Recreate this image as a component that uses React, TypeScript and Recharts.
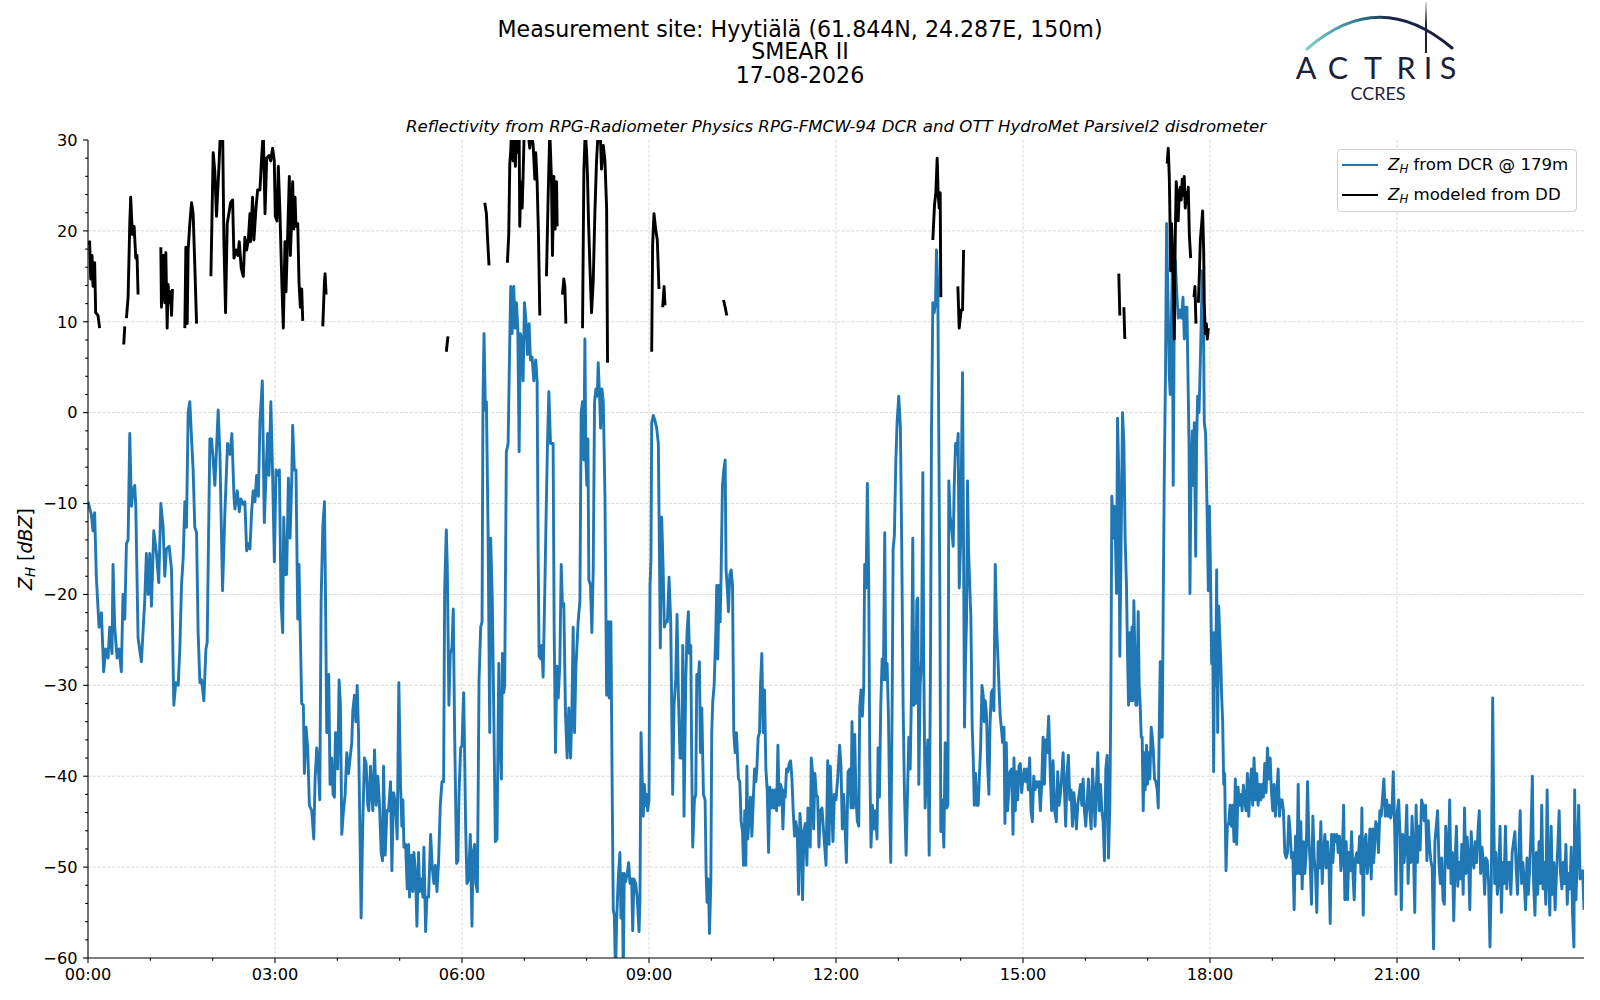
import React from 'react';
import { LineChart, Line, XAxis, YAxis, CartesianGrid, Legend } from 'recharts';

type Pt = [number, number];

// ---- Z_H from DCR @ 179m : [minutes after 00:00, dBZ] ----
const dcr00to03: Pt[] = [
  [0, -9.8], [3.2, -11.2], [4.8, -13], [6.4, -11], [8, -18], [10.6, -23.6], [12.9, -22], [15.1, -28.5], [17, -26], [19.3, -27],
  [20.9, -23.6], [23.1, -26.5], [24.1, -16.7], [25.7, -23.6], [28, -27], [29.9, -26], [32.1, -28.5], [33.7, -20], [35.4, -22.7],
  [37, -14.4], [38.6, -14], [40.2, -2.3], [41.8, -10.3], [43.4, -8.6], [45, -8], [46, -10.3], [48.2, -24.8], [51.4, -27.4],
  [54.6, -20.7], [56.2, -15.5], [57.9, -20], [59.5, -15.5], [61.1, -21.3], [63.3, -13], [65.9, -15.5], [68.1, -18.7], [70.1, -10],
  [72.3, -12.6], [73.9, -18], [75.5, -15], [78.1, -14.7], [80.4, -17.3], [82.6, -32.2], [84.5, -29.7], [86.8, -30], [88.4, -26],
  [90, -19], [91.6, -16], [93.2, -9.8], [94.8, -12.6], [96.4, 0], [98, 1.2], [99.7, -2.9], [101.2, -6.3], [102.8, -12.6],
  [104.5, -13.2], [106, -24.2], [107.7, -29.7], [109.3, -29.4], [111.5, -31.7], [113.5, -26], [114.7, -25.3], [117.3, -2.9],
  [118.9, -2.9], [120.5, -5.2], [122.1, -8], [123.7, -4], [125.3, 0.3], [127, -4.6], [129.5, -19.6], [131.8, -10.9], [134.3, -3.4],
  [136.6, -4.6], [138.5, -2.3], [140.5, -9.2], [141.4, -10.6], [143.7, -8.6], [145.6, -10.9], [147.2, -9.5], [149.5, -10.1],
  [151, -9.8], [152.7, -15.2], [154.3, -14.4], [155.9, -15], [157.5, -10.9], [159, -8.6], [160.7, -9.8], [162.3, -6.9],
  [164, -9.2], [165.5, -1.1], [167.8, 3.5], [169.7, -12.1], [171.3, -6.9], [172.9, -2.3], [174.2, -6.9], [176, 1.2], [177.7, -6.9],
];

const dcr03to06: Pt[] = [
  [179.4, -16.4], [181, -6.3], [182.6, -6.9], [184.2, -6.3], [185.8, -20.7], [187.4, -24.2], [188.4, -11.5], [190, -17.8],
  [191.2, -17.8], [192.9, -7.2], [194.5, -13.8], [196.1, -7.5], [197, -1.4], [198.6, -6.3], [200.2, -6.3], [201.9, -22.7],
  [203.1, -16.7], [204.1, -22.7], [205.7, -32], [207.3, -32.2], [208.3, -39.7], [209.9, -34.6], [211.5, -36.9], [213.1, -43.2],
  [215.4, -43.8], [217.3, -46.9], [218.6, -40.3], [220.2, -36.9], [221.8, -39.2], [223.1, -42.6], [224.4, -20.7], [226, -12.6],
  [227.6, -9.8], [228.5, -19], [229.8, -35.2], [230.8, -35.2], [231.7, -28.8], [233, -40.9], [234.6, -38], [235.9, -42],
  [237.2, -42.3], [238.2, -35.2], [239.5, -36], [240.4, -39.2], [241.7, -29.4], [243, -32.2], [244.3, -46.4], [245.9, -43.8],
  [247.5, -42], [249.1, -37.4], [250.7, -39.7], [252.3, -38], [253.9, -36.3], [254.9, -32.8], [256.5, -31.1], [257.8, -34],
  [259.1, -30], [260.4, -35.2], [261.6, -45], [262.9, -55.6], [264.5, -45], [266.1, -38], [267.7, -38.6], [269.3, -43.2],
  [270.3, -43.8], [271.9, -38.9], [273.2, -42], [274.2, -43.8], [275.8, -37.1], [277.4, -43.2], [279, -40], [280.6, -43.2],
  [282.2, -48.4], [283.5, -49.3], [284.5, -38.9], [286.1, -48.7], [287.7, -43.8], [289.3, -43.8], [291.2, -40.6], [292.5, -50.4],
  [294.1, -41.8], [296, -43], [297.6, -46.9], [299.2, -29.7], [300.9, -41.2], [302.1, -45.5], [303.1, -42.6], [304.1, -47.8],
  [305.7, -47.5], [307.3, -52.4], [308.6, -47.5], [309.5, -53.3], [311.1, -48.7], [312.7, -52.7], [313.7, -48.4], [315.3, -50.7],
  [316.6, -56.5], [318.2, -48.4], [319.2, -52.7], [320.8, -51.3], [322.4, -53.3], [323.3, -47.8], [325, -57.1], [326.2, -53.3],
  [327.8, -53.3], [329.8, -46.4], [331.4, -50.1], [333, -51.8], [334.3, -49.8], [335.9, -52.7], [337.5, -49.3], [339.1, -43.2],
  [340.7, -40.6], [342.3, -40.6], [343.3, -19.6], [344.9, -12.9], [345.8, -16.7], [347.4, -32.2], [348.7, -26.5], [350.3, -25.9],
  [351.6, -21.6], [352.9, -35.2], [354.8, -49.6], [356.1, -49.3],
];

const dcr06to09: Pt[] = [
  [357.1, -42], [358.7, -36.9], [360, -36.6], [361.6, -30.8], [362.6, -38], [363.5, -45.5], [364.8, -51.8], [366.4, -51.3],
  [368, -46.4], [369.6, -56.5], [370.6, -48.4], [372.2, -47.5], [373.2, -51.8], [374.8, -52.7], [376.4, -29.4], [378, -23.6],
  [379.3, -23], [380.2, 1.2], [381.2, 8.7], [382.5, 0.3], [383.5, 1.2], [385.1, -13.2], [386.7, -35.2], [387.6, -13.8],
  [389.2, -20.7], [390.5, -32.2], [392.1, -47.2], [393.7, -46.9], [395.4, -27.6], [396.3, -34.6], [397.9, -40.3], [398.9, -26.5],
  [400.2, -30.8], [401.1, -30], [402.7, -4.3], [404.4, -3.4], [406, 8.1], [406.9, 13.9], [408.2, 8.7], [409.8, 13.9],
  [411.1, 9.3], [412.4, 12.1], [413.7, 9.3], [415, -4.3], [416.2, 8.7], [417.5, 8.1], [418.8, 3.5], [420.1, 12.1],
  [421.4, 10.4], [423, 6.4], [424.6, 9.8], [425.9, 5.8], [427.5, 6.1], [429.1, 3.5], [431, 5.8], [432.3, 3.5], [433.3, -15.5],
  [434.2, -26.8], [435.9, -27.1], [436.8, -25.6], [438.1, -29.1], [439.7, -19.6], [441.3, -9.2], [442.3, -3.4], [443.6, 2.3],
  [445.2, -3.4], [446.5, -3.4], [447.7, -3.4], [448.7, -23.6], [450, -37.4], [451.3, -27.9], [452.6, -31.4], [454.2, -27.6],
  [455.5, -16.7], [456.7, -21.3], [458, -21], [459.6, -33.1], [461.2, -38], [462.8, -32.5], [464.5, -38], [465.7, -33.4],
  [467, -23.6], [468.3, -35.2], [469.6, -28.2], [471.8, -23], [473.5, -20.7], [474.7, 0], [476, 1.2], [477.3, -5.2],
  [478.3, 8.1], [479.2, -4.9], [480.2, -8], [481.2, -2.9], [482.1, -18.4], [483.7, -19], [485, -24.2], [486.3, -17.3],
  [487.6, 1.2], [488.9, 2.6], [490.2, 1.8], [491.1, 5.5], [492.4, 1.8], [493.4, -1.7], [494.7, 2.6], [496, 1.2], [497.6, -9.2],
  [499.2, -31.1], [500.8, -23], [501.7, -31.4], [503.3, -23], [504.6, -42], [505.6, -54.7], [506.6, -55.3], [507.8, -62],
  [508.8, -56], [510.4, -51.3], [512, -48.4], [513, -55.6], [514.3, -50.7], [515.2, -62], [516.2, -50.7], [517.5, -51.6],
  [519.1, -50.7], [520.4, -49.5], [521.7, -51.8], [523.3, -51.3],
];

const dcr09to12: Pt[] = [
  [524.3, -57], [525.5, -51.3], [527.2, -51.8], [528.8, -53.6], [530.4, -57.1], [531.3, -53.6], [532.3, -35.2], [533.6, -40.9],
  [534.5, -44.4], [535.5, -40.9], [536.8, -43.2], [537.7, -42], [538.7, -43.8], [540, -42.6], [541, -19], [541.9, -16.1],
  [542.6, -1.1], [544.2, -0.3], [545.8, -0.9], [547.4, -1.7], [549, -3.4], [550, -15], [550.9, -25.9], [552.2, -11.5],
  [553.5, -16.7], [554.8, -23.6], [556.1, -23], [557.7, -23], [559.3, -18.1], [560.9, -23], [562.8, -42], [564.1, -32.2],
  [565.7, -29.4], [567, -22.2], [568.3, -31.1], [569.9, -38], [571.5, -38], [572.5, -25.6], [573.7, -44.4], [575.4, -29.4],
  [576.6, -24.2], [577.9, -21.9], [578.9, -26.5], [580.2, -25.6], [581.1, -38], [582.1, -47.8], [583.7, -42.6], [585, -42],
  [586, -28.8], [587.2, -30], [588.5, -27.4], [589.5, -37.4], [590.8, -32.5], [592.4, -42], [594, -42.6], [595, -50.7],
  [595.9, -53.9], [597.2, -51.3], [598.2, -57.3], [599.5, -51.8], [600.4, -35.2], [601.4, -31.7], [602.7, -30], [604.3, -24.2],
  [605.2, -19], [606.2, -27.1], [607.5, -19], [608.5, -23], [609.4, -17.8], [610.7, -8], [612, -6.3], [613.3, -5.2],
  [614.2, -17.3], [615.5, -19.6], [616.5, -21.9], [617.8, -17.8], [619.1, -17.3], [620.4, -19], [621.6, -35.2], [622.9, -37.4],
  [624.2, -35.2], [626.1, -40.3], [627.4, -40.6], [628.7, -45], [630, -46.1], [631, -49.8], [632.2, -43.8], [633.2, -49.8],
  [634.2, -38.9], [635.1, -46.9], [636.4, -44.4], [637.7, -42.3], [639, -46.6], [640.3, -42.9], [641.6, -39.2], [642.8, -40.6],
  [643.8, -39.2], [645.1, -35.7], [646.4, -35.2], [647.3, -30], [648.6, -26.5], [649.9, -35.2], [651.2, -30.5], [652.5, -39.2],
  [653.8, -41.5], [655.1, -48.4], [656.3, -41.2], [657.6, -43.5], [658.9, -41.5], [660.2, -43.5], [661.5, -41.5], [662.8, -43.8],
  [664.1, -36.6], [665.3, -43.2], [666.6, -40.9], [667.9, -41.5], [668.9, -45.8], [670.2, -41.5], [671.1, -42.3], [672.4, -39.2],
  [673.7, -39.5], [675, -38.6], [676.3, -38.3], [677.6, -40.3], [678.8, -43.8], [680.1, -46.6], [681.4, -45], [682.7, -46.1],
  [684, -53], [685.3, -44.1], [686.6, -46.4], [687.8, -53.6], [689.1, -46.1], [690.4, -45.2], [692, -49.8], [693, -43.5],
  [694.3, -43.8], [695.2, -47.8], [696.2, -38], [697.5, -39.7], [698.5, -45.8], [699.7, -39.7], [701, -42], [702.3, -42.3],
  [703.6, -47.8], [704.9, -43.8], [706.5, -43.5], [708.1, -46.1], [710.4, -49.8],
];

const dcr12to15: Pt[] = [
  [712, -38.3], [713.3, -47.5], [714.5, -38.9], [715.8, -43.2], [717.1, -47.2], [718.4, -42], [720, -42.6], [721.6, -40.3],
  [723.5, -36.6], [724.8, -38.9], [726.1, -45.8], [727.4, -42], [728.7, -45.5], [730, -49.5], [731.6, -39.5], [733.2, -39.2],
  [734.5, -43.5], [735.4, -34], [736.7, -43.5], [738, -35.4], [739.3, -42.6], [740.6, -45], [741.9, -45.5], [742.8, -32.5],
  [744.1, -30.5], [745.4, -33.4], [746.7, -30], [747.6, -16.7], [748.9, -19.3], [750.2, -7.8], [751.5, -18.4], [752.5, -38],
  [753.7, -47.8], [755, -43.2], [756.3, -45.8], [757.9, -43.8], [759.5, -46.9], [760.5, -36.9], [761.8, -42.3], [763.1, -32.2],
  [764.4, -27.1], [765.6, -29.4], [766.9, -13.2], [767.9, -29.4], [769.2, -27.6], [770.5, -33.4], [771.7, -43.8], [772.7, -49.5],
  [774, -32.8], [775, -15], [776.2, -13.5], [777.5, -5.7], [778.8, -1.1], [780.4, 1.8], [782, -1.7], [783.3, -15], [784.6, -32.2],
  [785.9, -42], [787.5, -48.7], [788.8, -42], [790.1, -35.7], [791.4, -39.2], [792.6, -31.1], [793.9, -13.8], [794.9, -32.2],
  [795.9, -24.2], [796.5, -32], [797.8, -20.7], [798.7, -20.4], [799.7, -40.9], [801, -30], [802.3, -27.1], [803.6, -6.6],
  [804.5, -28.2], [805.8, -43.5], [807.1, -39.2], [808.4, -36], [809.7, -48.7], [811, -26.5], [811.9, -2.3], [813.2, 12.1],
  [814.5, 11], [815.8, 12.1], [816.7, 17.9], [818, 13.9], [819, -3.4], [820, -20.7], [820.9, -46.1], [822.2, -42.6], [823.8, -47.8],
  [825.1, -36.3], [826.4, -43.5], [827.7, -43.2], [828.6, -7.5], [829.9, -11.5], [831.2, -12.6], [832.8, -14.7], [833.8, -8],
  [835.1, -3.4], [836.3, -4.6], [837.6, -2.3], [838.6, -19.3], [839.9, -14.4], [840.8, -5.2], [841.8, 4.4], [842.8, -15],
  [843.7, -34.6], [844.7, -27.1], [845.7, -22.5], [846.6, -7.5], [847.6, -15], [848.9, -19.6], [849.8, -22.5], [851.1, -34.6],
  [852.1, -38], [853.1, -43.2], [854.3, -39.7], [855.6, -43.2], [856.9, -43.2], [857.9, -40.3], [859.2, -36.9], [860.5, -30],
  [861.7, -31.1], [862.7, -34], [863.7, -31.7], [865, -33.4], [865.9, -38.6], [867.2, -42], [868.2, -34.6], [869.5, -30.8],
  [870.7, -30.5], [872, -32.8], [873.3, -16.7], [874.6, -23.6], [875.9, -27.1], [877.2, -31.1], [878.1, -33.4], [879.1, -34.6],
  [880.4, -36.3], [881.7, -34.6], [882.6, -45.2], [883.9, -36.3], [885.2, -43.8], [887.4, -39.5],
];

const dcr15to18: Pt[] = [
  [889.1, -39.2], [890.4, -46.4], [891.3, -38], [892.6, -43.8], [893.6, -39.5], [894.9, -42.6], [896.1, -38.9], [897.4, -38.6],
  [898.7, -41.8], [900, -40.3], [901.3, -39.2], [902.6, -40.6], [903.9, -39.2], [905.1, -41.5], [906.4, -38], [907.7, -43.8],
  [909, -45], [910.3, -40], [911.6, -41.5], [912.9, -40.6], [914.1, -41.2], [915.4, -40.6], [916.7, -43.8], [918, -40.9],
  [919.3, -35.7], [920.6, -40.9], [921.9, -36], [923.1, -37.4], [924.7, -33.4], [926.4, -40.3], [927.6, -43.8], [928.9, -38.3],
  [930.5, -43.8], [932.1, -45], [933.4, -39.5], [934.7, -43.2], [936, -42], [937.3, -40], [938.6, -37.4], [939.9, -41.5],
  [941.1, -45.5], [942.4, -39.7], [943.7, -37.7], [945, -42.6], [946.3, -41.5], [947.6, -45.5], [948.9, -41.8], [950.1, -43.2],
  [951.4, -45.8], [952.7, -43.2], [954, -42], [955.3, -40.9], [956.6, -43.2], [957.9, -40.3], [959.1, -43.8], [960.4, -45.5],
  [961.7, -43], [963, -40.3], [964.3, -43.8], [965.6, -45.8], [966.9, -39.2], [968.1, -41.8], [969.4, -45.5], [970.7, -40.9],
  [972, -37.4], [973.3, -43.8], [974.6, -40.9], [975.9, -43.8], [977.1, -45], [978.4, -49.3], [979.7, -39.2], [981, -37.7],
  [982.3, -49], [983.6, -43.2], [984.5, -32.2], [985.5, -9.2], [986.8, -13.8], [987.7, -10.3], [988.7, -12.6], [990, -19.9],
  [991, -0.6], [992.2, -6.9], [993.2, -26.8], [994.5, -13.8], [995.8, 0], [997.1, -3.4], [998.3, -13.8], [999.6, -19],
  [1000.6, -26.5], [1001.6, -32.2], [1002.8, -24.2], [1003.8, -31.7], [1004.8, -23.6], [1005.7, -31.7], [1006.7, -20.7],
  [1007.7, -26.5], [1008.6, -32.2], [1009.6, -32.2], [1010.9, -21.9], [1011.8, -30], [1012.8, -32.2], [1013.8, -35.7],
  [1014.7, -35.7], [1015.7, -43.8], [1016.7, -37.4], [1017.6, -41.5], [1018.9, -36.6], [1019.9, -40.9], [1020.8, -37.4],
  [1022.1, -40.3], [1023.4, -34.6], [1024.4, -35.7], [1025.3, -36.9], [1026.6, -40.3], [1027.9, -40.6], [1029.2, -41.5],
  [1030.2, -43.5], [1031.1, -35.2], [1032.1, -27.4], [1033.1, -35.7], [1034, -35.7], [1035, -20.7], [1036, -6.9], [1037.2, 4.6],
  [1038.2, 20.8], [1039.5, 12.7], [1040.8, 4.1], [1041.7, 2], [1042.7, 9.3], [1043.7, 15.9], [1044.6, -8], [1045.6, 11],
  [1046.6, 16.7], [1047.5, 14.4], [1048.5, 12.1], [1049.5, 10.4], [1051.1, 11.3], [1052.7, 10.4], [1054, 12.7], [1055.3, 8.1],
  [1056.5, 11.6], [1057.8, 11.6], [1059.8, -3.4], [1060.7, -19.9], [1061.7, -6.9], [1063, -2], [1063.9, -8], [1064.9, -1.1],
  [1066.2, -15.8], [1067.1, -3.4], [1068.1, 1.8], [1069.4, 0], [1070.4, 4.1], [1071.3, 8.7], [1072.6, 15.6], [1073.6, 12.1],
  [1074.5, -1.1], [1075.8, -2.3], [1077.1, -10.3], [1078.4, -19.6], [1079.4, -10.3],
];

const dcr18to21: Pt[] = [
  [1080.3, -16.1], [1081.6, -27.6], [1082.6, -24.2], [1083.5, -39.5], [1084.5, -24.2], [1085.5, -30], [1086.4, -17.3],
  [1087.4, -35.2], [1088.4, -21.3], [1089.3, -24.2], [1090.3, -27.1], [1091.2, -31.1], [1092.2, -34], [1093.2, -40.9],
  [1094.1, -39.7], [1095.4, -50.4], [1096.7, -45.5], [1098, -45.2], [1099.3, -43.2], [1100.6, -45.5], [1101.9, -43.2],
  [1103.1, -47.2], [1104.4, -40.3], [1105.7, -47.5], [1107, -41.2], [1108.3, -43.2], [1109.6, -42], [1110.9, -43.8], [1112.1, -41],
  [1113.4, -42.6], [1114.7, -43.8], [1116, -39.7], [1117.3, -44.4], [1118.6, -40.9], [1119.9, -39.2], [1121.1, -43.2], [1122.4, -38],
  [1123.7, -42.6], [1125, -39.7], [1126.3, -43.2], [1127.6, -40.9], [1128.9, -42.6], [1130.1, -40.9], [1131.4, -42.3],
  [1132.7, -38.6], [1134, -41.8], [1135.3, -36.9], [1136.6, -40.3], [1137.9, -38], [1139.1, -41.5], [1140.4, -43.8],
  [1141.7, -40.9], [1143, -44.4], [1144.3, -42], [1145.6, -39.2], [1146.9, -44.4], [1148.1, -42.6], [1149.4, -42.6],
  [1150.7, -43.8], [1152, -48.4], [1153.3, -49], [1154.6, -48.4], [1155.9, -44.4], [1157.1, -46.1], [1158.4, -49], [1159.7, -48.4],
  [1161, -54.7], [1162.3, -46.6], [1163.6, -50.7], [1164.9, -40.9], [1166.1, -50.7], [1167.4, -45], [1168.7, -52.4], [1170, -47.2],
  [1171.3, -50.7], [1172.6, -48.4], [1173.9, -40.6], [1175.1, -46.6], [1176.4, -49.5], [1177.7, -54.1], [1179, -44.4], [1180.3, -49],
  [1181.6, -50.7], [1182.8, -55], [1184.1, -47.2], [1185.4, -50.1], [1186.7, -45], [1188, -51.8], [1189.3, -48.4], [1190.6, -46.4],
  [1191.8, -50.1], [1193.1, -47.2], [1194.4, -49.3], [1195.7, -56.2], [1197, -46.4], [1198.3, -49.5], [1199.6, -46.4],
  [1200.8, -47.2], [1202.1, -46.4], [1203.4, -48.4], [1204.7, -46.6], [1206, -50.4], [1207.3, -49], [1208.6, -43.2], [1209.8, -53.6],
  [1211.1, -47.2], [1212.4, -53.6], [1213.7, -48.4], [1215, -50.4], [1216.3, -46.1], [1217.6, -50.7], [1218.8, -53.6], [1220.1, -49],
  [1221.4, -48.4], [1222.7, -49.5], [1224, -46.6], [1225.3, -50.7], [1226.2, -43.5], [1227.5, -55.3], [1228.8, -47.2],
  [1230.1, -46.4], [1231.4, -50.7], [1232.7, -49], [1233.9, -45.8], [1235.2, -51.3], [1236.5, -45.8], [1237.5, -49.5],
  [1238.3, -48.1], [1239.6, -45], [1240.9, -45.5], [1242.2, -48.4], [1243.5, -43.8], [1244.8, -44.4], [1246.1, -42.3],
  [1247.4, -40.3], [1248.7, -44.4], [1250, -42.6], [1251.3, -44.4], [1252.6, -43.2], [1253.9, -44.6], [1255.2, -43.8],
  [1256.4, -39.5], [1257.7, -45.5], [1259, -53],
];

const dcr21to24: Pt[] = [
  [1260.3, -43.8], [1261.6, -42.6], [1262.9, -46.4], [1264.2, -54.7], [1265.5, -46.4], [1266.8, -49.5], [1268.1, -47.5],
  [1269.4, -43.2], [1270.7, -51.8], [1272, -46.7], [1273.3, -49.5], [1274.5, -44.4], [1275.8, -48.1], [1277.1, -55], [1278.4, -43.2],
  [1279.7, -49.5], [1281, -45.5], [1282.3, -48.1], [1283.6, -42.6], [1284.9, -43.2], [1286.2, -44.9], [1287.5, -43.2],
  [1288.8, -49.3], [1290.1, -44.9], [1291.4, -47.8], [1292.6, -49.3], [1293.9, -50.1], [1295.2, -59], [1296.5, -47.2],
  [1297.8, -45.5], [1299.1, -43.8], [1300.4, -49.5], [1301.7, -51.8], [1303, -49], [1304.3, -53.6], [1305.6, -54.1], [1306.9, -45.5],
  [1308.2, -48.4], [1309.4, -50.1], [1310.7, -42.6], [1312, -51.8], [1313.3, -48.4], [1314.6, -55.9], [1315.9, -49.5],
  [1317.2, -45.5], [1318.5, -52.1], [1319.8, -49.5], [1321.1, -51.3], [1322.4, -47.5], [1323.7, -53], [1325, -43.5], [1326.3, -50.7],
  [1327.5, -46.7], [1328.8, -49], [1330.1, -54.7], [1331.4, -46.1], [1332.7, -49], [1334, -50.1], [1335.3, -47.2], [1336.6, -49.5],
  [1337.9, -46.1], [1339.2, -43.8], [1340.5, -50.7], [1341.8, -47.8], [1343.1, -49.5], [1344.4, -53], [1345.6, -49], [1346.9, -49.3],
  [1348.2, -51.8], [1349.5, -58.8], [1350.8, -51.3], [1352.1, -31.4], [1353.1, -43.8], [1354, -51.8], [1355.3, -48.4], [1356.6, -53],
  [1357.9, -51.3], [1359.2, -45.5], [1360.5, -55], [1361.8, -49.5], [1363.1, -51.8], [1364.4, -45.5], [1365.7, -52.4],
  [1367, -49.5], [1368.3, -49.5], [1369.6, -53], [1370.9, -48.4], [1372.2, -47.2], [1373.5, -46.1], [1374.7, -50.1], [1376, -53],
  [1377.3, -48.4], [1378.6, -43.8], [1379.9, -51.8], [1381.2, -49.5], [1382.5, -51.8], [1383.8, -54.7], [1385.1, -49], [1386.4, -53],
  [1387.7, -50.1], [1389, -46.1], [1390.3, -40], [1391.5, -51.8], [1392.8, -55.3], [1394.1, -48.4], [1395.4, -53], [1396.7, -47.2],
  [1398, -51.8], [1399.3, -43.2], [1400.6, -52.4], [1401.9, -49.5], [1403.2, -54.1], [1404.5, -41.5], [1405.8, -50.7],
  [1407.1, -55.3], [1408.4, -45.5], [1409.6, -53], [1410.9, -49.5], [1412.2, -54.7], [1413.5, -50.7], [1414.8, -47.8],
  [1416.1, -43.8], [1417.4, -50.7], [1418.7, -52.4], [1420, -49.5], [1421.3, -51.8], [1422.6, -47.5], [1423.9, -54.1],
  [1425.2, -50.7], [1426.5, -52.4], [1427.7, -47.8], [1429, -55.3], [1430.3, -58.8], [1431, -41.5], [1432.3, -53.6],
  [1433.6, -48.4], [1434.9, -43.2], [1436.2, -51.3], [1437.5, -50.7], [1438.7, -50.4], [1440, -54.7],
];

// ---- Z_H modeled from DD : runs of valid samples [minutes, dBZ] ----
const ddRuns: Pt[][] = [
  [[0, 18.5], [1.6, 18.8], [2.6, 14.7], [3.9, 17.3], [4.8, 13.9], [6.4, 16.5], [7.4, 11], [9.6, 10.7], [11.2, 9.3]],
  [[34.4, 7.5], [35.4, 9.5]],
  [[37, 10.4], [38.6, 12.7], [40.2, 20.8], [41.1, 23.7], [42.7, 19.6], [44.4, 20.5], [46, 17], [47.2, 17.3], [48.2, 13]],
  [[70.1, 18.2], [70.7, 11.6], [72.3, 17.3], [73.9, 12.1], [74.9, 17.6], [76.2, 9.3], [77.1, 14.1], [78.1, 12.1], [79.4, 13.3], [80.4, 10.7], [81.3, 13.6]],
  [[93.2, 9.3], [94.2, 18.2], [95.5, 9.8], [96.4, 17.9], [98, 20.8], [99.7, 23.1], [101.2, 21.9], [102.8, 16.2], [104.5, 9.8]],
  [[118.3, 15], [120.5, 28.6], [122.1, 26.5], [123.7, 21.6], [126.3, 27.7], [127, 29.7], [128.6, 32], [129.5, 32], [130.8, 19],
   [132.4, 11], [134, 20.8], [136, 22.2], [137.2, 23.1], [139.2, 23.4], [140.5, 17], [142.4, 17.9], [144.3, 17.3], [145.6, 18.8],
   [147.5, 15.9], [149.5, 15], [151, 19.3], [152.7, 17.9], [154.3, 19], [155.9, 21.9], [156.5, 18.8], [158.4, 23.7], [159.7, 19],
   [161.7, 22.5], [163.3, 24.5], [165.5, 24.5], [167.1, 28], [168.7, 31], [170.4, 21.9], [172, 28], [174.2, 28.3], [175.8, 27.7],
   [177.7, 29.1], [179.3, 27.7], [180.3, 21.6], [181.9, 21.1], [183.2, 27.1], [184.8, 21.9], [186.4, 15], [188, 9.3], [189.6, 18.8],
   [190.6, 13.3], [192.2, 19.6], [193.8, 26], [194.8, 17.3], [196.1, 21.4], [197, 25.4], [198, 20.2], [199.3, 23.7], [200.2, 20.5],
   [201.9, 20.8], [203.1, 14.4], [204.4, 11.6], [205.7, 13.6], [206.7, 10.1]],
  [[226, 9.5], [227.6, 14.4], [228.2, 15.3], [229.2, 13]],
  [[344.9, 6.7], [346.5, 8.4]],
  [[381.9, 23.1], [383.5, 21.9], [384.4, 19.6], [386, 16.2]],
  [[403.7, 16.5], [405, 19.6], [406, 27.4], [406.9, 28.8], [407.6, 31], [409.2, 27.7], [410.1, 31], [411.4, 27.1], [412.4, 31],
   [414, 28.6], [415, 31], [415.6, 20.5], [416.6, 25.4], [417.9, 22.5], [418.8, 26], [420.1, 32], [422, 32], [423.6, 31], [425.2, 29.1],
   [426.9, 31], [428.5, 29.4], [430.1, 25.7], [431, 28.6], [432.3, 25.4], [433.6, 19.6], [434.9, 10.7]],
  [[441.3, 15], [442.9, 23.7], [444.5, 31], [446.1, 25.7], [447.1, 17.3], [448.4, 26], [449.7, 20.2], [451, 25.4], [451.6, 20.5]],
  [[456.7, 13], [458, 14.7], [459, 13.9], [460, 9.8]],
  [[476, 9.3], [477.3, 26.5], [478.6, 31], [479.9, 28.8], [480.8, 26], [481.8, 21], [483.1, 16.2], [484.7, 11], [486.3, 14.4],
   [487.9, 21.9], [489.5, 27.7], [491.1, 31], [492.7, 32], [494.3, 26.8], [496, 29.4], [497.6, 27.7], [499.2, 22.5], [500.1, 5.5]],
  [[542.6, 6.7], [543.5, 18.5], [544.8, 21.9], [546.4, 20.2], [548, 19], [549.6, 13.6]],
  [[553.2, 11.6], [554.5, 13.9], [555.4, 11.8]],
  [[611.7, 12.4], [613.3, 11.6], [614.9, 10.7]],
  [[813.2, 19], [814.8, 22.8], [816.1, 24.2], [817.4, 28], [818.3, 24.2], [819.3, 22.5], [820.3, 24.2], [820.9, 12.7]],
  [[837.3, 13.9], [838.6, 9.3], [840.5, 11.3], [841.8, 11.3], [842.8, 17.9]],
  [[992.2, 15.3], [993.2, 10.7]],
  [[997.1, 11.6], [998, 8.1]],
  [[1038.8, 27.4], [1039.8, 29.1], [1040.8, 26], [1041.4, 21.9], [1042.1, 15.6], [1043, 20.8], [1044, 17.3], [1044.6, 15.6],
   [1045.6, 8.1], [1046.6, 19.6], [1047.5, 25.4], [1048.5, 23.7], [1049.4, 21.1], [1050.4, 24.2], [1051.4, 24.8], [1052.3, 23.4],
   [1053.3, 25.7], [1054.3, 23.9], [1055.2, 26], [1056.2, 22.5], [1057.2, 24.2], [1058.1, 23.1], [1059.1, 24.8], [1060.1, 19.6],
   [1061.4, 17]],
  [[1064.6, 12.7], [1065.5, 13.9], [1066.5, 9.8]],
  [[1068.8, 12.1], [1069.7, 15], [1070.7, 19], [1072, 20.8], [1072.9, 22.2], [1073.9, 17.9], [1074.5, 11.8], [1075.5, 8.7],
   [1076.5, 9.8], [1077.4, 8.1], [1078.4, 9.3]],
];

// ---- axes ----
const X_TICKS = [0, 60, 120, 180, 240, 300, 360, 420, 480, 540, 600, 660, 720, 780, 840, 900, 960, 1020, 1080, 1140, 1200, 1260, 1320, 1380];
const X_MAJOR = [0, 180, 360, 540, 720, 900, 1080, 1260];
const X_LABELS = ['00:00', '03:00', '06:00', '09:00', '12:00', '15:00', '18:00', '21:00'];
const Y_TICKS = [-60, -58, -56, -54, -52, -50, -48, -46, -44, -42, -40, -38, -36, -34, -32, -30, -28, -26, -24, -22, -20, -18, -16, -14, -12, -10, -8, -6, -4, -2, 0, 2, 4, 6, 8, 10, 12, 14, 16, 18, 20, 22, 24, 26, 28, 30];
const Y_MAJOR = [-60, -50, -40, -30, -20, -10, 0, 10, 20, 30];
const GRID_X = [180, 360, 540, 720, 900, 1080, 1260];
const GRID_Y = [-50, -40, -30, -20, -10, 0, 10, 20];

const TITLE_LINES = ['Measurement site: Hyytiälä (61.844N, 24.287E, 150m)', 'SMEAR II', '17-08-2026'];
const SUBTITLE = 'Reflectivity from RPG-Radiometer Physics RPG-FMCW-94 DCR and OTT HydroMet Parsivel2 disdrometer';
const LEGEND_ITEMS = [
  { text: ' from DCR @ 179m', color: '#1f77b4' },
  { text: ' modeled from DD', color: '#000000' },
];
const LOGO_LETTERS: [string, number][] = [
  ['A', 1306], ['C', 1338], ['T', 1373], ['R', 1406], ['I', 1428], ['S', 1448],
];

const FONT = '"DejaVu Sans", Verdana, sans-serif';
const LOGO_FONT = "Lato, 'Open Sans', sans-serif";
const DCR_COLOR = '#1f77b4';
const NAVY = '#1b1f3b';

const dcrData = [...dcr00to03, ...dcr03to06, ...dcr06to09, ...dcr09to12, ...dcr12to15, ...dcr15to18, ...dcr18to21, ...dcr21to24]
  .map(([t, v]) => ({ t, v }));
const ddData: { t: number; v: number | null }[] = [];
ddRuns.forEach((run) => {
  run.forEach(([t, v]) => ddData.push({ t, v }));
  ddData.push({ t: run[run.length - 1][0] + 0.05, v: null });
});

const fmtY = (v: number) => (v < 0 ? '\u2212' + Math.abs(v) : String(v));

const XTick = (props: any) => {
  const { x, y, payload } = props;
  const idx = X_MAJOR.indexOf(payload.value);
  const major = idx >= 0;
  return (
    <g>
      <line x1={x} x2={x} y1={y} y2={y + (major ? 4.9 : 2.8)} stroke="#000" strokeWidth={1.1} />
      {major && (
        <text x={x} y={y + 21.7} textAnchor="middle" fontSize={16.2} fontFamily={FONT} fill="#000">
          {X_LABELS[idx]}
        </text>
      )}
    </g>
  );
};

const YTick = (props: any) => {
  const { x, y, payload } = props;
  const major = Y_MAJOR.indexOf(payload.value) >= 0;
  return (
    <g>
      <line x1={x - (major ? 4.9 : 2.8)} x2={x} y1={y} y2={y} stroke="#000" strokeWidth={1.1} />
      {major && (
        <text x={x - 10.5} y={y + 5.8} textAnchor="end" fontSize={16.2} fontFamily={FONT} fill="#000">
          {fmtY(payload.value)}
        </text>
      )}
    </g>
  );
};

const LegendBox = () => (
  <div
    style={{
      width: 240,
      height: 63,
      boxSizing: 'border-box',
      border: '1px solid #d0d0d0',
      borderRadius: 4,
      background: 'rgba(255,255,255,0.8)',
      fontFamily: FONT,
      fontSize: 16.6,
      color: '#000',
    }}
  >
    {LEGEND_ITEMS.map((it, i) => (
      <div key={i} style={{ height: 30, display: 'flex', alignItems: 'center' }}>
        <div style={{ width: 36, height: 2.8, background: it.color, marginLeft: 4, marginRight: 10 }} />
        <span style={{ whiteSpace: 'nowrap', lineHeight: '17px' }}>
          <i>Z</i>
          <i style={{ fontSize: 11.8, position: 'relative', top: 3 }}>H</i>
          {it.text}
        </span>
      </div>
    ))}
  </div>
);

const TITLE_BASELINES = [36.6, 59.1, 82.6];

const Overlay = () => (
  <svg width={1600} height={1000} style={{ position: 'absolute', left: 0, top: 0 }}>
    <defs>
      <linearGradient id="arcGrad" x1="1306" y1="0" x2="1450" y2="0" gradientUnits="userSpaceOnUse">
        <stop offset="0" stopColor="#7fd0c8" />
        <stop offset="0.35" stopColor="#2f7f95" />
        <stop offset="0.6" stopColor="#1b2246" />
        <stop offset="1" stopColor={NAVY} />
      </linearGradient>
      <linearGradient id="barGrad" x1="0" y1="2" x2="0" y2="53" gradientUnits="userSpaceOnUse">
        <stop offset="0" stopColor={NAVY} stopOpacity="0.15" />
        <stop offset="0.45" stopColor={NAVY} stopOpacity="1" />
        <stop offset="1" stopColor={NAVY} stopOpacity="1" />
      </linearGradient>
    </defs>
    <text textAnchor="middle" fontSize={22.1} fontFamily={FONT} fill="#000">
      {TITLE_LINES.map((s, i) => (
        <tspan key={i} x={800} y={TITLE_BASELINES[i]}>
          {s}
        </tspan>
      ))}
    </text>
    <text x={836} y={131.5} textAnchor="middle" fontSize={16.6} fontStyle="italic" fontFamily={FONT} fill="#000">
      {SUBTITLE}
    </text>
    <text transform="translate(31.5,549) rotate(-90)" textAnchor="middle" fontSize={19} fontFamily={FONT} fill="#000">
      <tspan fontStyle="italic">Z</tspan>
      <tspan fontStyle="italic" fontSize={13.3} dy={3.5}>H</tspan>
      <tspan dy={-3.5}> [</tspan>
      <tspan fontStyle="italic">dBZ</tspan>
      <tspan>]</tspan>
    </text>
    {/* ACTRIS CCRES logo */}
    <path d="M1307,49 Q1379,-14 1452,48" fill="none" stroke="url(#arcGrad)" strokeWidth={3} strokeLinecap="round" />
    <line x1={1426} x2={1426} y1={2} y2={53} stroke="url(#barGrad)" strokeWidth={2} />
    {LOGO_LETTERS.map(([ch, cx]) => (
      <text key={ch} x={cx} y={79} textAnchor="middle" fontSize={30.5} fontFamily={LOGO_FONT} fill={NAVY}>
        {ch}
      </text>
    ))}
    <text x={1378} y={100} textAnchor="middle" fontSize={18} fontFamily={LOGO_FONT} fill={NAVY}>
      CCRES
    </text>
  </svg>
);

export default function App() {
  return (
    <div style={{ position: 'absolute', left: 0, top: 0, width: 1600, height: 1000, background: '#fff' }}>
      <Overlay />
      <div style={{ position: 'absolute', left: 0, top: 0 }}>
        <LineChart width={1600} height={1000} margin={{ top: 140, right: 16, bottom: 2, left: 8 }}>
          <CartesianGrid
            horizontalValues={GRID_Y}
            verticalValues={GRID_X}
            stroke="#cfcfcf"
            strokeWidth={0.8}
            strokeDasharray="3.2 1.6"
          />
          <XAxis
            dataKey="t"
            type="number"
            domain={[0, 1440]}
            allowDataOverflow
            ticks={X_TICKS}
            interval={0}
            tickSize={0}
            tickMargin={0}
            tickLine={false}
            tick={<XTick />}
            height={40}
            axisLine={{ stroke: '#000', strokeWidth: 1.1 }}
          />
          <XAxis
            xAxisId="top"
            orientation="top"
            dataKey="t"
            type="number"
            domain={[0, 1440]}
            height={0}
            tick={false}
            tickLine={false}
            axisLine={{ stroke: '#000', strokeWidth: 1.1 }}
          />
          <YAxis
            type="number"
            domain={[-60, 30]}
            allowDataOverflow
            ticks={Y_TICKS}
            interval={0}
            tickSize={0}
            tickMargin={0}
            tickLine={false}
            tick={<YTick />}
            width={80}
            axisLine={{ stroke: '#000', strokeWidth: 1.1 }}
          />
          <YAxis
            yAxisId="right"
            orientation="right"
            type="number"
            domain={[-60, 30]}
            width={0}
            tick={false}
            tickLine={false}
            axisLine={{ stroke: '#000', strokeWidth: 1.1 }}
          />
          <Line
            data={dcrData}
            dataKey="v"
            stroke={DCR_COLOR}
            strokeWidth={2.9}
            dot={false}
            activeDot={false}
            isAnimationActive={false}
            strokeLinejoin="round"
          />
          <Line
            data={ddData}
            dataKey="v"
            stroke="#000"
            strokeWidth={2.9}
            dot={false}
            activeDot={false}
            isAnimationActive={false}
            strokeLinejoin="round"
          />
          <Legend
            layout="horizontal"
            verticalAlign="middle"
            align="center"
            wrapperStyle={{ left: 1337, top: 149, width: 240, height: 63 }}
            content={() => <LegendBox />}
          />
        </LineChart>
      </div>
    </div>
  );
}
